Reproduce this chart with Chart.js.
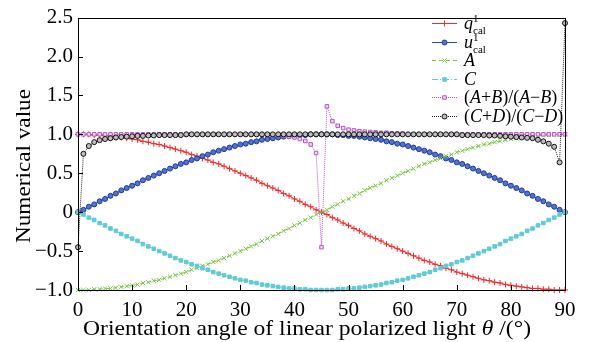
<!DOCTYPE html>
<html>
<head>
<meta charset="utf-8">
<script src="https://cdn.jsdelivr.net/npm/chart.js@4.4.1/dist/chart.umd.min.js"></script>
<style>
  html, body { margin: 0; padding: 0; background: #fff; }
  canvas { display: block; }
</style>
</head>
<body>
<canvas id="myChart" width="596" height="342"></canvas>
<script>
// orientation angle (deg)
const angles = [0,1,2,3,4,5,6,7,8,9,10,11,12,13,14,15,16,17,18,19,20,21,22,23,24,25,26,27,28,29,30,
  31,32,33,34,35,36,37,38,39,40,41,42,43,44,45,46,47,48,49,50,51,52,53,54,55,56,57,58,59,60,
  61,62,63,64,65,66,67,68,69,70,71,72,73,74,75,76,77,78,79,80,81,82,83,84,85,86,87,88,89,90]

const qCal = [1.00,1.00,1.00,0.99,0.99,0.98,0.98,0.97,0.96,0.95,0.94,0.93,0.91,0.90,0.88,0.87,0.85,0.83,0.81,0.79,
  0.77,0.74,0.72,0.69,0.67,0.64,0.62,0.59,0.56,0.53,0.50,0.47,0.44,0.41,0.37,0.34,0.31,0.28,0.24,0.21,
  0.17,0.14,0.10,0.07,0.03,0.00,-0.03,-0.07,-0.10,-0.14,-0.17,-0.21,-0.24,-0.28,-0.31,-0.34,-0.37,-0.41,-0.44,-0.47,
  -0.50,-0.53,-0.56,-0.59,-0.62,-0.64,-0.67,-0.69,-0.72,-0.74,-0.77,-0.79,-0.81,-0.83,-0.85,-0.87,-0.88,-0.90,-0.91,-0.93,
  -0.94,-0.95,-0.96,-0.97,-0.98,-0.98,-0.99,-0.99,-1.00,-1.00,-1.00]

const uCal = [0.00,0.03,0.07,0.10,0.14,0.17,0.21,0.24,0.28,0.31,0.34,0.37,0.41,0.44,0.47,0.50,0.53,0.56,0.59,0.62,
  0.64,0.67,0.69,0.72,0.74,0.77,0.79,0.81,0.83,0.85,0.87,0.88,0.90,0.91,0.93,0.94,0.95,0.96,0.97,0.98,
  0.98,0.99,0.99,1.00,1.00,1.00,1.00,1.00,0.99,0.99,0.98,0.98,0.97,0.96,0.95,0.94,0.93,0.91,0.90,0.88,
  0.87,0.85,0.83,0.81,0.79,0.77,0.74,0.72,0.69,0.67,0.64,0.62,0.59,0.56,0.53,0.50,0.47,0.44,0.41,0.37,
  0.34,0.31,0.28,0.24,0.21,0.17,0.14,0.10,0.07,0.03,0.00]

const valA = [-1.00,-1.00,-1.00,-0.99,-0.99,-0.98,-0.98,-0.97,-0.96,-0.95,-0.94,-0.93,-0.91,-0.90,-0.88,-0.87,-0.85,-0.83,-0.81,-0.79,
  -0.77,-0.74,-0.72,-0.69,-0.67,-0.64,-0.62,-0.59,-0.56,-0.53,-0.50,-0.47,-0.44,-0.41,-0.37,-0.34,-0.31,-0.28,-0.24,-0.21,
  -0.17,-0.14,-0.10,-0.07,-0.03,0.00,0.03,0.07,0.10,0.14,0.17,0.21,0.24,0.28,0.31,0.34,0.37,0.41,0.44,0.47,
  0.50,0.53,0.56,0.59,0.62,0.64,0.67,0.69,0.72,0.74,0.77,0.79,0.81,0.83,0.85,0.87,0.88,0.90,0.91,0.93,
  0.94,0.95,0.96,0.97,0.98,0.98,0.99,0.99,1.00,1.00,1.00]

const valC = [0.00,-0.03,-0.07,-0.10,-0.14,-0.17,-0.21,-0.24,-0.28,-0.31,-0.34,-0.37,-0.41,-0.44,-0.47,-0.50,-0.53,-0.56,-0.59,-0.62,
  -0.64,-0.67,-0.69,-0.72,-0.74,-0.77,-0.79,-0.81,-0.83,-0.85,-0.87,-0.88,-0.90,-0.91,-0.93,-0.94,-0.95,-0.96,-0.97,-0.98,
  -0.98,-0.99,-0.99,-1.00,-1.00,-1.00,-1.00,-1.00,-0.99,-0.99,-0.98,-0.98,-0.97,-0.96,-0.95,-0.94,-0.93,-0.91,-0.90,-0.88,
  -0.87,-0.85,-0.83,-0.81,-0.79,-0.77,-0.74,-0.72,-0.69,-0.67,-0.64,-0.62,-0.59,-0.56,-0.53,-0.50,-0.47,-0.44,-0.41,-0.37,
  -0.34,-0.31,-0.28,-0.24,-0.21,-0.17,-0.14,-0.10,-0.07,-0.03,0.00]

const ratioAB = [1.00,1.00,1.00,1.00,1.00,1.00,1.00,1.00,1.00,1.00,1.00,1.00,1.00,1.00,1.00,1.00,1.00,1.00,1.00,1.00,
  1.00,1.00,1.00,1.00,1.00,1.00,1.00,1.00,1.00,1.00,1.00,1.00,1.00,1.00,1.00,0.995,0.99,0.99,0.98,0.97,
  0.96,0.94,0.915,0.87,0.76,-0.45,1.36,1.17,1.11,1.08,1.06,1.05,1.04,1.035,1.03,1.025,1.02,1.02,1.015,1.01,
  1.01,1.00,1.00,1.00,1.00,1.00,1.00,1.00,1.00,1.00,1.00,1.00,1.00,1.00,1.00,1.00,1.00,1.00,1.00,1.00,
  1.00,1.00,1.00,1.00,1.00,1.00,1.00,1.00,1.00,1.00,1.00]

const ratioCD = [-0.45,0.75,0.85,0.90,0.925,0.94,0.95,0.96,0.965,0.97,0.975,0.98,0.98,0.985,0.985,0.99,0.99,0.99,0.99,0.99,
  1.00,1.00,1.00,1.00,1.00,1.00,1.00,1.00,1.00,1.00,1.00,1.00,1.00,1.00,1.00,1.00,1.00,1.00,1.00,1.00,
  1.00,1.00,1.00,1.00,1.00,1.00,1.00,1.00,1.00,1.00,1.00,1.00,1.00,1.00,1.00,1.00,1.00,1.00,1.00,1.00,
  1.00,1.00,1.00,1.00,1.00,1.00,1.00,1.00,1.00,1.00,1.00,0.99,0.99,0.99,0.99,0.99,0.985,0.985,0.98,0.975,
  0.97,0.965,0.96,0.955,0.95,0.93,0.91,0.88,0.84,0.64,2.43]

const xTickValues = [0,10,20,30,40,50,60,70,80,90]
const xTickLabels = ["0","10","20","30","40","50","60","70","80","90"]
const yTickValues = [-1,-0.5,0,0.5,1,1.5,2,2.5]
const yTickLabels = ["\u22121.0","\u22120.5","0","0.5","1.0","1.5","2.0","2.5"]

const serif = '"Liberation Serif", "DejaVu Serif", serif'

// legend texts: pieces of italic / roman text, with sub and superscripts
const legendTexts = [
  [{t:"q",i:1},{t:"1",s:11,dy:-7,stay:1},{t:"cal",s:11,dy:5}],
  [{t:"u",i:1},{t:"1",s:11,dy:-7,stay:1},{t:"cal",s:11,dy:5}],
  [{t:"A",i:1}],
  [{t:"C",i:1}],
  [{t:"("},{t:"A",i:1},{t:"+"},{t:"B",i:1},{t:")/("},{t:"A",i:1},{t:"\u2212"},{t:"B",i:1},{t:")"}],
  [{t:"("},{t:"C",i:1},{t:"+"},{t:"D",i:1},{t:")/("},{t:"C",i:1},{t:"\u2212"},{t:"D",i:1},{t:")"}]
]

function drawRich(ctx, parts, x, y, size) {
  for (const p of parts) {
    ctx.font = (p.i ? "italic " : "") + (p.s || size) + "px " + serif
    ctx.fillText(p.t, x, y + (p.dy || 0))
    if (!p.stay) x += ctx.measureText(p.t).width
  }
  return x
}

function richWidth(ctx, parts, size) {
  let w = 0
  parts.forEach(p => {
    ctx.font = (p.i ? "italic " : "") + (p.s || size) + "px " + serif
    if (!p.stay) w += ctx.measureText(p.t).width
  })
  return w
}

const frameAndTicks = {
  id: "frameAndTicks",
  afterDraw(chart) {
    const ctx = chart.ctx
    const a = chart.chartArea
    const xs = chart.scales.x, ys = chart.scales.y
    ctx.save()
    ctx.strokeStyle = "#000"
    ctx.lineWidth = 1
    ctx.beginPath()
    xTickValues.forEach(v => {
      const px = Math.round(xs.getPixelForValue(v)) + 0.5
      ctx.moveTo(px, a.bottom); ctx.lineTo(px, a.bottom - 5)
    })
    yTickValues.forEach(v => {
      const py = Math.round(ys.getPixelForValue(v)) + 0.5
      ctx.moveTo(a.left, py); ctx.lineTo(a.left + 5, py)
    })
    ctx.stroke()
    ctx.strokeRect(Math.round(a.left) + 0.5, Math.round(a.top) + 0.5,
      Math.round(a.right - a.left), Math.round(a.bottom - a.top))

    // axis titles (stretched a little to the width of the original lettering)
    ctx.fillStyle = "#000"
    ctx.textBaseline = "alphabetic"
    ctx.textAlign = "left"
    const yParts = [{t:"Numerical value"}]
    const yw = richWidth(ctx, yParts, 22)
    ctx.save()
    ctx.translate(30, 166)
    ctx.rotate(-Math.PI / 2)
    ctx.scale(154 / yw, 1)
    drawRich(ctx, yParts, -yw / 2, 0, 22)
    ctx.restore()

    const xParts = [{t:"Orientation angle of linear polarized light "},{t:"\u03b8",i:1},{t:" /(\u00b0)"}]
    const xw = richWidth(ctx, xParts, 22)
    ctx.save()
    ctx.translate(307, 335)
    ctx.scale(448 / xw, 1)
    drawRich(ctx, xParts, -xw / 2, 0, 22)
    ctx.restore()

    // legend
    const rows = [23, 42, 60, 79, 97, 116]
    chart.data.datasets.forEach((ds, i) => {
      const y = rows[i]
      ctx.save()
      ctx.strokeStyle = ds.borderColor
      ctx.lineWidth = ds.borderWidth
      ctx.setLineDash(ds.borderDash || [])
      ctx.beginPath()
      ctx.moveTo(432, y + 0.5); ctx.lineTo(457, y + 0.5)
      ctx.stroke()
      ctx.setLineDash([])
      ctx.fillStyle = ds.pointBackgroundColor
      ctx.strokeStyle = ds.pointBorderColor
      ctx.lineWidth = ds.pointBorderWidth
      Chart.helpers.drawPoint(ctx, {pointStyle: ds.pointStyle, radius: ds.pointRadius, borderWidth: ds.pointBorderWidth, rotation: 0}, 444.5, y + 0.5)
      ctx.restore()
      ctx.fillStyle = "#000"
      drawRich(ctx, legendTexts[i], 464, y + 6, 18)
    })
    ctx.restore()
  }
}

const series = [
  { label: "q1cal", data: qCal, borderColor: "#f52a2a", borderWidth: 1, borderDash: [],
    pointStyle: "cross", pointRadius: 3, pointBackgroundColor: "#f52a2a", pointBorderColor: "#f52a2a", pointBorderWidth: 1, order: 5 },
  { label: "u1cal", data: uCal, borderColor: "#2c4aa8", borderWidth: 1, borderDash: [],
    pointStyle: "circle", pointRadius: 2.5, pointBackgroundColor: "#4f74d6", pointBorderColor: "#22399a", pointBorderWidth: 1, order: 4 },
  { label: "A", data: valA, borderColor: "#7cc446", borderWidth: 1, borderDash: [4, 3],
    pointStyle: "crossRot", pointRadius: 3, pointBackgroundColor: "#7cc446", pointBorderColor: "#7cc446", pointBorderWidth: 1, order: 3 },
  { label: "C", data: valC, borderColor: "#5ecbd6", borderWidth: 1, borderDash: [6, 2, 1, 2],
    pointStyle: "rect", pointRadius: 2.5, pointBackgroundColor: "#5ecbd6", pointBorderColor: "#5ecbd6", pointBorderWidth: 1, order: 2 },
  { label: "(A+B)/(A-B)", data: ratioAB, borderColor: "#b35ac2", borderWidth: 1, borderDash: [1, 1],
    pointStyle: "rect", pointRadius: 2.5, pointBackgroundColor: "#ecd4f0", pointBorderColor: "#b35ac2", pointBorderWidth: 1, order: 1 },
  { label: "(C+D)/(C-D)", data: ratioCD, borderColor: "#222", borderWidth: 1, borderDash: [1, 1],
    pointStyle: "circle", pointRadius: 2.5, pointBackgroundColor: "#bdbdbd", pointBorderColor: "#111", pointBorderWidth: 1, order: 0 }
]

const config = {
  type: "line",
  data: {
    labels: angles,
    datasets: series.map(s => Object.assign({ fill: false, tension: 0, clip: false, pointHoverRadius: s.pointRadius }, s))
  },
  options: {
    responsive: false,
    animation: false,
    layout: { padding: { top: 12, right: 31, left: 0, bottom: 0 } },
    plugins: { legend: { display: false }, tooltip: { enabled: false } },
    scales: {
      x: {
        type: "linear", min: 0, max: 90,
        afterFit: s => { s.height = 52 },
        afterBuildTicks: s => { s.ticks = xTickValues.map(v => ({ value: v })) },
        grid: { display: false, drawTicks: false },
        border: { display: false },
        ticks: {
          padding: 8, color: "#000", font: { family: serif, size: 21 },
          maxRotation: 0, autoSkip: false,
          callback: v => xTickLabels[xTickValues.indexOf(v)]
        }
      },
      y: {
        min: -1, max: 2.5,
        afterFit: s => { s.width = 78 },
        afterBuildTicks: s => { s.ticks = yTickValues.map(v => ({ value: v })) },
        grid: { display: false, drawTicks: false },
        border: { display: false },
        ticks: {
          padding: 5, color: "#000", font: { family: serif, size: 21 },
          autoSkip: false,
          callback: v => yTickLabels[yTickValues.indexOf(v)]
        }
      }
    }
  },
  plugins: [frameAndTicks]
}

const salesChart = new Chart(document.getElementById("myChart"), config)
</script>
</body>
</html>
